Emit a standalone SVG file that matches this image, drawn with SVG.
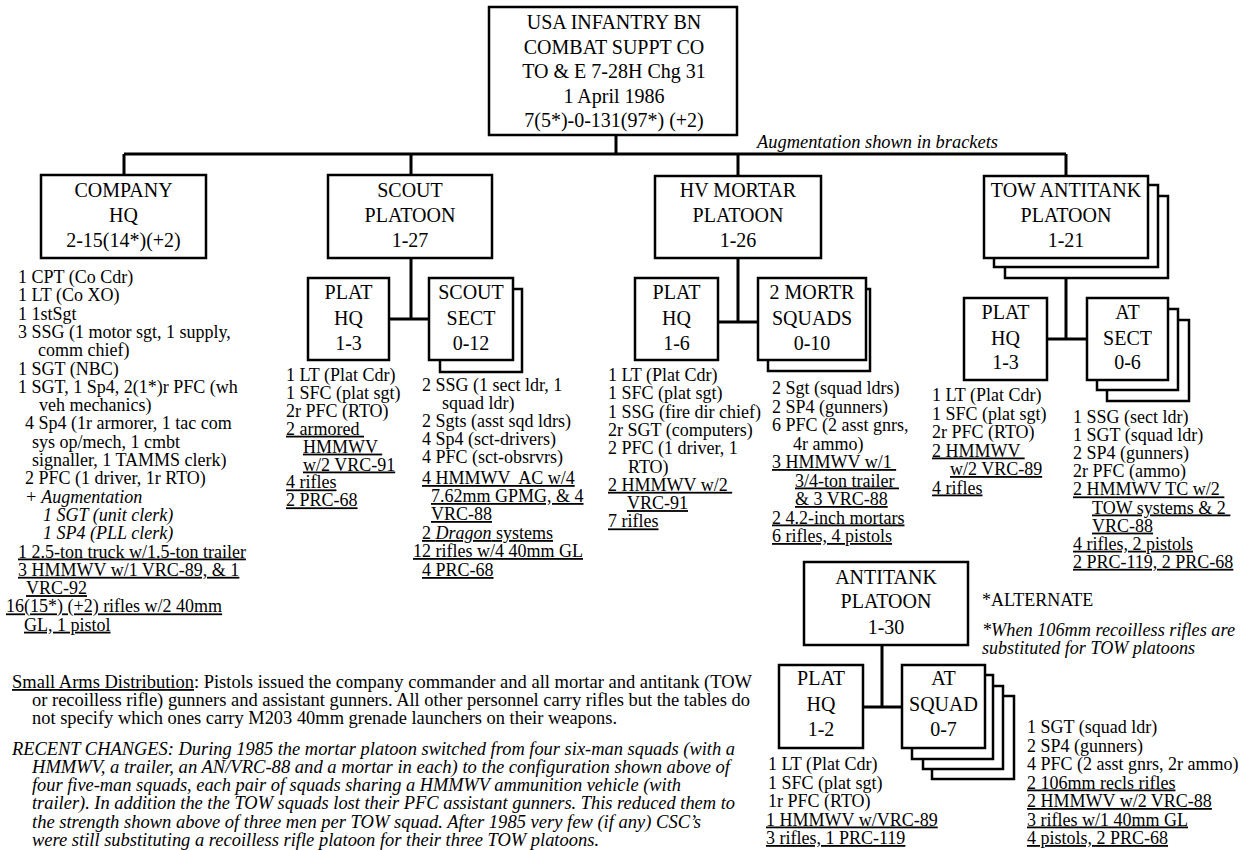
<svg xmlns="http://www.w3.org/2000/svg" width="1246" height="850" viewBox="0 0 1246 850">
<style>
.box{fill:#fff;stroke:#000;stroke-width:2.5}
.ln{stroke:#000;stroke-width:3;fill:none}
.t{font-family:"Liberation Serif","Times New Roman",serif;font-size:20px;text-anchor:middle;fill:#000}
.l{font-family:"Liberation Serif","Times New Roman",serif;font-size:18px;fill:#000;white-space:pre}
.u{text-decoration:underline}
.i{font-style:italic}
.n{font-family:"Liberation Serif","Times New Roman",serif;font-size:18px;fill:#000}
</style>
<rect width="1246" height="850" fill="#fff"/>
<g id="connectors">
<path class="ln" d="M616 135V154M124 154H1066M124 154V175M411 154V175M738 154V176M1066 154V176"/>
<path class="ln" d="M411 258V319M389 319H429"/>
<path class="ln" d="M738 258V322M718 322H758"/>
<path class="ln" d="M1066 278V339M1047 339H1087"/>
<path class="ln" d="M882 645V707M863 707H902"/>
</g>
<g id="bn">
<rect class="box" x="489" y="7" width="248" height="128"/>
<text class="t" x="614" y="29">USA INFANTRY BN</text>
<text class="t" x="614" y="53.5">COMBAT SUPPT CO</text>
<text class="t" x="614" y="78">TO &amp; E 7-28H Chg 31</text>
<text class="t" x="614" y="102.5">1 April 1986</text>
<text class="t" x="614" y="127">7(5*)-0-131(97*) (+2)</text>
</g>
<text class="n i" x="757" y="148" font-size="17" textLength="241" lengthAdjust="spacingAndGlyphs">Augmentation shown in brackets</text>
<g id="coHQ">
<rect class="box" x="41" y="175" width="165" height="83"/>
<text class="t" x="123.5" y="197">COMPANY</text>
<text class="t" x="123.5" y="222">HQ</text>
<text class="t" x="123.5" y="247">2-15(14*)(+2)</text>
<text class="l" x="18" y="283">1 CPT (Co Cdr)</text>
<text class="l" x="18" y="301.3">1 LT (Co XO)</text>
<text class="l" x="18" y="319.6">1 1stSgt</text>
<text class="l" x="18" y="337.9">3 SSG (1 motor sgt, 1 supply,</text>
<text class="l" x="38" y="356.2">comm chief)</text>
<text class="l" x="18" y="374.5">1 SGT (NBC)</text>
<text class="l" x="18" y="392.8">1 SGT, 1 Sp4, 2(1*)r PFC (wh</text>
<text class="l" x="39" y="411.1">veh mechanics)</text>
<text class="l" x="25" y="429.4">4 Sp4 (1r armorer, 1 tac com</text>
<text class="l" x="32" y="447.7">sys op/mech, 1 cmbt</text>
<text class="l" x="32" y="466">signaller, 1 TAMMS clerk)</text>
<text class="l" x="25" y="484.3">2 PFC (1 driver, 1r RTO)</text>
<text class="l i" x="25" y="502.6">+ Augmentation</text>
<text class="l i" x="43" y="520.9">1 SGT (unit clerk)</text>
<text class="l i" x="43" y="539.2">1 SP4 (PLL clerk)</text>
<text class="l u" x="18" y="557.5">1 2.5-ton truck w/1.5-ton trailer</text>
<text class="l u" x="18" y="575.8">3 HMMWV w/1 VRC-89, &amp; 1</text>
<text class="l u" x="26" y="594.1">VRC-92</text>
<text class="l u" x="6" y="612.4">16(15*) (+2) rifles w/2 40mm</text>
<text class="l u" x="24" y="630.7">GL, 1 pistol</text>
</g>
<g id="scoutPlt">
<rect class="box" x="328" y="175" width="164" height="83"/>
<text class="t" x="410" y="197">SCOUT</text>
<text class="t" x="410" y="222">PLATOON</text>
<text class="t" x="410" y="247">1-27</text>
</g>
<g id="scoutHQ">
<rect class="box" x="308" y="278" width="81" height="82"/>
<text class="t" x="348.5" y="299">PLAT</text>
<text class="t" x="348.5" y="325">HQ</text>
<text class="t" x="348.5" y="350">1-3</text>
<text class="l" x="286" y="381">1 LT (Plat Cdr)</text>
<text class="l" x="286" y="398.9">1 SFC (plat sgt)</text>
<text class="l" x="286" y="416.8">2r PFC (RTO)</text>
<text class="l u" x="286" y="434.7">2 armored </text>
<text class="l u" x="303" y="452.6">HMMWV </text>
<text class="l u" x="303" y="470.5">w/2 VRC-91</text>
<text class="l u" x="286" y="488.4">4 rifles</text>
<text class="l u" x="286" y="506.3">2 PRC-68</text>
</g>
<g id="scoutSect">
<rect class="box" x="440" y="289" width="82" height="83"/>
<rect class="box" x="429" y="278" width="84" height="82"/>
<text class="t" x="471" y="299">SCOUT</text>
<text class="t" x="471" y="325">SECT</text>
<text class="t" x="471" y="350">0-12</text>
<text class="l" x="422" y="391">2 SSG (1 sect ldr, 1</text>
<text class="l" x="442" y="409">squad ldr)</text>
<text class="l" x="422" y="427">2 Sgts (asst sqd ldrs)</text>
<text class="l" x="422" y="445">4 Sp4 (sct-drivers)</text>
<text class="l" x="422" y="463">4 PFC (sct-obsrvrs)</text>
<text class="l u" x="422" y="484">4 HMMWV  AC w/4</text>
<text class="l u" x="431" y="502">7.62mm GPMG, &amp; 4</text>
<text class="l u" x="431" y="520">VRC-88</text>
<text class="l u" x="422" y="539">2 <tspan class="i">Dragon</tspan> systems</text>
<text class="l u" x="413" y="557">12 rifles w/4 40mm GL</text>
<text class="l u" x="422" y="576">4 PRC-68</text>
</g>
<g id="mortarPlt">
<rect class="box" x="655" y="176" width="166" height="82"/>
<text class="t" x="738" y="197">HV MORTAR</text>
<text class="t" x="738" y="222">PLATOON</text>
<text class="t" x="738" y="247">1-26</text>
</g>
<g id="mortarHQ">
<rect class="box" x="635" y="278" width="83" height="82"/>
<text class="t" x="676.5" y="299">PLAT</text>
<text class="t" x="676.5" y="325">HQ</text>
<text class="t" x="676.5" y="350">1-6</text>
<text class="l" x="608" y="381">1 LT (Plat Cdr)</text>
<text class="l" x="608" y="399.3">1 SFC (plat sgt)</text>
<text class="l" x="608" y="417.6">1 SSG (fire dir chief)</text>
<text class="l" x="608" y="435.9">2r SGT (computers)</text>
<text class="l" x="608" y="454.2">2 PFC (1 driver, 1</text>
<text class="l" x="628" y="472.5">RTO)</text>
<text class="l u" x="608" y="490.8">2 HMMWV w/2 </text>
<text class="l u" x="627" y="509.1">VRC-91</text>
<text class="l u" x="608" y="527.4">7 rifles</text>
</g>
<g id="mortarSqd">
<rect class="box" x="768" y="289" width="102" height="82"/>
<rect class="box" x="758" y="278" width="108" height="82"/>
<text class="t" x="812" y="299">2 MORTR</text>
<text class="t" x="812" y="325">SQUADS</text>
<text class="t" x="812" y="350">0-10</text>
<text class="l" x="772" y="394">2 Sgt (squad ldrs)</text>
<text class="l" x="772" y="412.5">2 SP4 (gunners)</text>
<text class="l" x="772" y="431">6 PFC (2 asst gnrs,</text>
<text class="l" x="793" y="449.5">4r ammo)</text>
<text class="l u" x="772" y="468">3 HMMWV w/1 </text>
<text class="l u" x="795" y="486.5">3/4-ton trailer </text>
<text class="l u" x="795" y="505">&amp; 3 VRC-88</text>
<text class="l u" x="772" y="523.5">2 4.2-inch mortars</text>
<text class="l u" x="772" y="542">6 rifles, 4 pistols</text>
</g>
<g id="towPlt">
<rect class="box" x="1005" y="196" width="163" height="82"/>
<rect class="box" x="994" y="185" width="164" height="82"/>
<rect class="box" x="984" y="176" width="164" height="82"/>
<text class="t" x="1066" y="197">TOW ANTITANK</text>
<text class="t" x="1066" y="222">PLATOON</text>
<text class="t" x="1066" y="247">1-21</text>
</g>
<g id="towHQ">
<rect class="box" x="964" y="298" width="83" height="82"/>
<text class="t" x="1005.5" y="319">PLAT</text>
<text class="t" x="1005.5" y="345">HQ</text>
<text class="t" x="1005.5" y="369">1-3</text>
<text class="l" x="932" y="401">1 LT (Plat Cdr)</text>
<text class="l" x="932" y="419.5">1 SFC (plat sgt)</text>
<text class="l" x="932" y="438">2r PFC (RTO)</text>
<text class="l u" x="932" y="456.5">2 HMMWV </text>
<text class="l u" x="950" y="475">w/2 VRC-89</text>
<text class="l u" x="932" y="493.5">4 rifles</text>
</g>
<g id="atSect">
<rect class="box" x="1107" y="320" width="82" height="81"/>
<rect class="box" x="1097" y="309" width="81" height="81"/>
<rect class="box" x="1087" y="298" width="81" height="82"/>
<text class="t" x="1127.5" y="319">AT</text>
<text class="t" x="1127.5" y="345">SECT</text>
<text class="t" x="1127.5" y="369">0-6</text>
<text class="l" x="1073" y="423">1 SSG (sect ldr)</text>
<text class="l" x="1073" y="441.1">1 SGT (squad ldr)</text>
<text class="l" x="1073" y="459.2">2 SP4 (gunners)</text>
<text class="l" x="1073" y="477.3">2r PFC (ammo)</text>
<text class="l u" x="1073" y="495.4">2 HMMWV TC w/2 </text>
<text class="l u" x="1092" y="513.5">TOW systems &amp; 2 </text>
<text class="l u" x="1092" y="531.6">VRC-88</text>
<text class="l u" x="1073" y="549.7">4 rifles, 2 pistols</text>
<text class="l u" x="1073" y="567.8">2 PRC-119, 2 PRC-68</text>
</g>
<g id="atPlt">
<rect class="box" x="804" y="562" width="164" height="83"/>
<text class="t" x="886" y="584">ANTITANK</text>
<text class="t" x="886" y="608">PLATOON</text>
<text class="t" x="886" y="634">1-30</text>
</g>
<text class="n" x="982" y="606" font-size="20">*ALTERNATE</text>
<text class="n i" x="982" y="636" font-size="17" textLength="253" lengthAdjust="spacingAndGlyphs">*When 106mm recoilless rifles are</text>
<text class="n i" x="982" y="654" font-size="17" textLength="213" lengthAdjust="spacingAndGlyphs">substituted for TOW platoons</text>
<g id="atHQ">
<rect class="box" x="779" y="665" width="84" height="83"/>
<text class="t" x="821" y="685">PLAT</text>
<text class="t" x="821" y="711">HQ</text>
<text class="t" x="821" y="736">1-2</text>
<text class="l" x="768" y="770">1 LT (Plat Cdr)</text>
<text class="l" x="768" y="788.5">1 SFC (plat sgt)</text>
<text class="l" x="768" y="807">1r PFC (RTO)</text>
<text class="l u" x="766" y="825.5">1 HMMWV w/VRC-89</text>
<text class="l u" x="766" y="844">3 rifles, 1 PRC-119</text>
</g>
<g id="atSquad">
<rect class="box" x="932" y="696" width="82" height="83"/>
<rect class="box" x="923" y="686" width="80" height="83"/>
<rect class="box" x="912" y="675" width="81" height="84"/>
<rect class="box" x="902" y="665" width="83" height="83"/>
<text class="t" x="943.5" y="685">AT</text>
<text class="t" x="943.5" y="711">SQUAD</text>
<text class="t" x="943.5" y="736">0-7</text>
<text class="l" x="1027" y="733">1 SGT (squad ldr)</text>
<text class="l" x="1027" y="751.5">2 SP4 (gunners)</text>
<text class="l" x="1027" y="770">4 PFC (2 asst gnrs, 2r ammo)</text>
<text class="l u" x="1027" y="788.5">2 106mm recls rifles</text>
<text class="l u" x="1027" y="807">2 HMMWV w/2 VRC-88</text>
<text class="l u" x="1027" y="825.5">3 rifles w/1 40mm GL</text>
<text class="l u" x="1027" y="844">4 pistols, 2 PRC-68</text>
</g>
<g id="notes">
<text class="n" x="12" y="688" textLength="740" lengthAdjust="spacingAndGlyphs"><tspan class="u">Small Arms Distribution</tspan>: Pistols issued the company commander and all mortar and antitank (TOW</text>
<text class="n" x="32" y="706" textLength="718" lengthAdjust="spacingAndGlyphs">or recoilless rifle) gunners and assistant gunners. All other personnel carry rifles but the tables do</text>
<text class="n" x="32" y="724" textLength="585" lengthAdjust="spacingAndGlyphs">not specify which ones carry M203 40mm grenade launchers on their weapons.</text>
<text class="n i" x="12" y="755" textLength="723" lengthAdjust="spacingAndGlyphs">RECENT CHANGES: During 1985 the mortar platoon switched from four six-man squads (with a</text>
<text class="n i" x="32" y="773" textLength="698" lengthAdjust="spacingAndGlyphs">HMMWV, a trailer, an AN/VRC-88 and a mortar in each) to the configuration shown above of</text>
<text class="n i" x="32" y="791" textLength="649" lengthAdjust="spacingAndGlyphs">four five-man squads, each pair of squads sharing a HMMWV ammunition vehicle (with</text>
<text class="n i" x="32" y="809" textLength="703" lengthAdjust="spacingAndGlyphs">trailer). In addition the the TOW squads lost their PFC assistant gunners. This reduced them to</text>
<text class="n i" x="32" y="828" textLength="669" lengthAdjust="spacingAndGlyphs">the strength shown above of three men per TOW squad. After 1985 very few (if any) CSC’s</text>
<text class="n i" x="32" y="846" textLength="567" lengthAdjust="spacingAndGlyphs">were still substituting a recoilless rifle platoon for their three TOW platoons.</text>
</g>
</svg>
